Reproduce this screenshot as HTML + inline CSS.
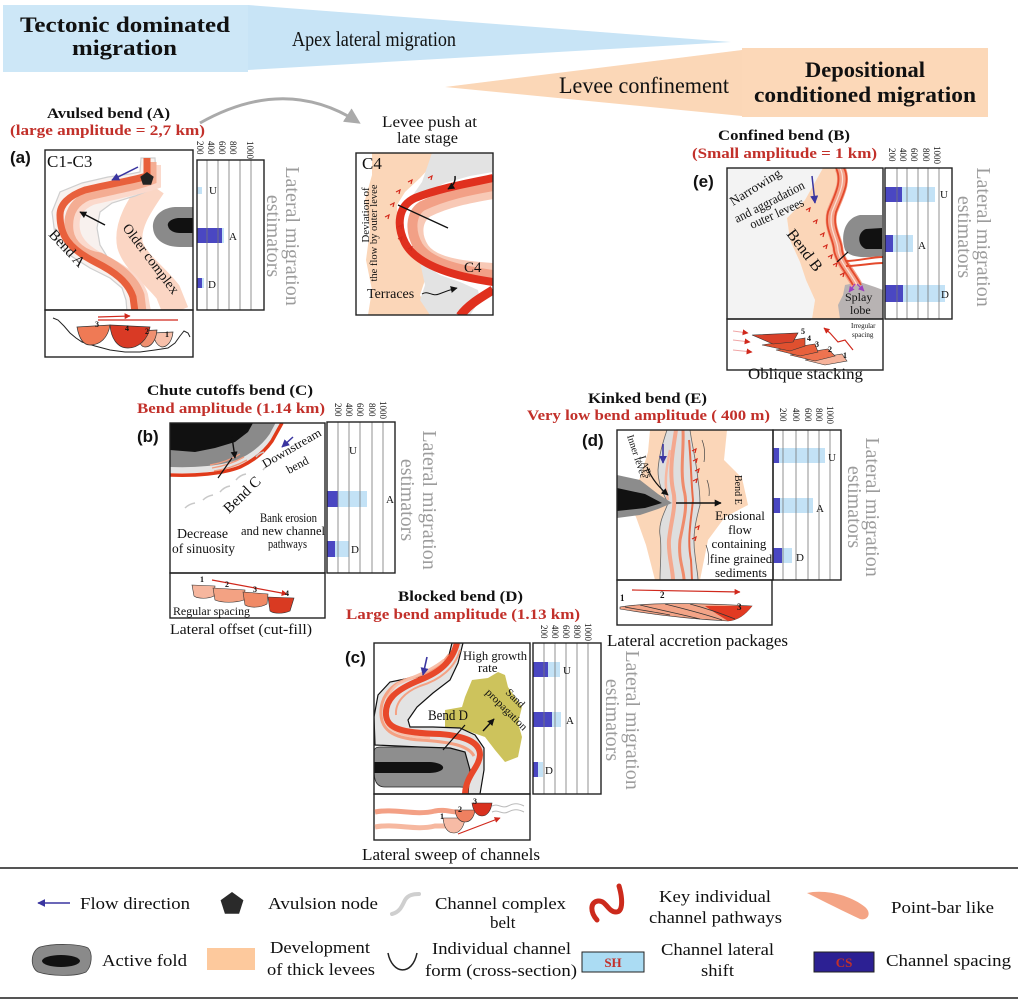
<!DOCTYPE html>
<html><head><meta charset="utf-8">
<style>
html,body{margin:0;padding:0;background:#fff;}
svg{display:block;}
text{font-family:"Liberation Serif","DejaVu Serif",serif;fill:#111;}
.sans{font-family:"Liberation Sans","DejaVu Sans",sans-serif;font-weight:bold;}
.b{font-weight:bold;}
.red{fill:#c2302a;font-weight:bold;}
.gt{fill:#9c9c9c;}
.bx{fill:none;stroke:#222;stroke-width:1.4;}
.gl{stroke:#777;stroke-width:0.8;}
.dk{fill:#4a47c2;}
.lt{fill:#c3e2f6;}
.tk{fill:none;stroke:#d42a1c;stroke-width:1.2;}
</style></head><body>
<svg width="1024" height="1002" viewBox="0 0 1024 1002" xmlns="http://www.w3.org/2000/svg">
<defs>
<marker id="mk" viewBox="0 0 10 10" refX="9" refY="5" markerWidth="7" markerHeight="7" markerUnits="userSpaceOnUse" orient="auto"><path d="M0,0 L10,5 L0,10 Z" fill="#111"/></marker>
<marker id="mb" viewBox="0 0 10 10" refX="9" refY="5" markerWidth="8" markerHeight="8" markerUnits="userSpaceOnUse" orient="auto"><path d="M0,0 L10,5 L0,10 Z" fill="#3a35a0"/></marker>
<marker id="mr" viewBox="0 0 10 10" refX="9" refY="5" markerWidth="6" markerHeight="6" markerUnits="userSpaceOnUse" orient="auto"><path d="M0,0 L10,5 L0,10 Z" fill="#d0281c"/></marker>
<marker id="mg" viewBox="0 0 10 10" refX="8" refY="5" markerWidth="16" markerHeight="16" markerUnits="userSpaceOnUse" orient="auto"><path d="M0,0 L10,5 L0,10 Z" fill="#aaa"/></marker>
<marker id="mp" viewBox="0 0 10 10" refX="9" refY="5" markerWidth="6" markerHeight="6" markerUnits="userSpaceOnUse" orient="auto"><path d="M0,0 L10,5 L0,10 Z" fill="#9b3fc0"/></marker>
<clipPath id="ca"><rect x="45" y="150" width="148" height="160"/></clipPath>
<clipPath id="cm"><rect x="356" y="153" width="137" height="162"/></clipPath>
<clipPath id="ce"><rect x="727" y="168" width="156" height="151"/></clipPath>
<clipPath id="cb"><rect x="170" y="423" width="155" height="150"/></clipPath>
<clipPath id="cd"><rect x="617" y="430" width="156" height="150"/></clipPath>
<clipPath id="cc"><rect x="374" y="643" width="156" height="151"/></clipPath>
</defs>

<!-- ===== Banner ===== -->
<polygon points="3,5 248,5 731,42 248,70 3,72" fill="#c8e4f6"/>
<rect x="3" y="5" width="245" height="67" fill="#cde7f7"/>
<polygon points="445,87 742,50 742,116" fill="#fbd7b7"/>
<rect x="742" y="48" width="246" height="69" fill="#fcd8b8"/>
<text x="20" y="32" font-size="22" class="b" textLength="210" lengthAdjust="spacingAndGlyphs">Tectonic dominated</text>
<text x="72" y="55" font-size="22" class="b" textLength="105" lengthAdjust="spacingAndGlyphs">migration</text>
<text x="292" y="46" font-size="21" textLength="164" lengthAdjust="spacingAndGlyphs">Apex lateral migration</text>
<text x="559" y="93" font-size="23" textLength="170" lengthAdjust="spacingAndGlyphs">Levee confinement</text>
<text x="805" y="77" font-size="22" class="b" textLength="120" lengthAdjust="spacingAndGlyphs">Depositional</text>
<text x="754" y="102" font-size="22" class="b" textLength="222" lengthAdjust="spacingAndGlyphs">conditioned migration</text>

<!-- gray curved arrow -->
<path d="M200,123 Q285,75 358,122" fill="none" stroke="#aaa" stroke-width="3" marker-end="url(#mg)"/>

<!-- ===== Panel a ===== -->
<text x="47" y="118" font-size="15" class="b" textLength="123" lengthAdjust="spacingAndGlyphs">Avulsed bend (A)</text>
<text x="10" y="135" font-size="15" class="red" textLength="195" lengthAdjust="spacingAndGlyphs">(large amplitude = 2,7 km)</text>
<text x="10" y="163" font-size="17" class="sans">(a)</text>
<g clip-path="url(#ca)">
 <path d="M153,186 C140,205 126,225 130,245 C135,262 155,275 168,292 L176,312" fill="none" stroke="#fbd6c4" stroke-width="26"/>
 <polygon points="141,158 140,172 130,174 108,177 82,183 60,192 52,212 55,235 68,254 90,268 110,278 122,288 126,300 127,312 148,312 146,295 140,283 125,270 108,258 100,245 97,228 100,212 112,203 135,196 150,190 156,180 155,158" fill="#f8f1ee" stroke="#cfcfcf" stroke-width="1.2"/>
 <path d="M156,165 L156,184 C140,190 115,194 92,200 C78,206 73,216 75,230 C77,243 88,252 106,261 C124,270 138,280 143,295 L146,312" fill="none" stroke="#fbd9cc" stroke-width="10"/>
 <path d="M152,162 L152,180 C137,186 112,190 88,196 C74,202 67,214 69,231 C71,245 84,255 100,257 C118,266 134,278 140,295 L142,312" fill="none" stroke="#f4ad93" stroke-width="9"/>
 <path d="M147,158 L147,176 C135,180 110,184 85,190 C68,196 60,205 60,215 C60,235 68,248 95,262 C115,272 128,282 133,297 L135,312" fill="none" stroke="#e8603c" stroke-width="7"/>
 <path d="M193,207 L175,207 C160,208 152,218 153,228 C154,240 165,247 180,247 L193,247 Z" fill="#8a8a8a"/>
 <path d="M193,218 L178,218 C170,219 167,223 168,226 C169,231 175,233 180,233 L193,233 Z" fill="#111"/>
 <polygon points="147,172 153.7,176.8 151.1,184.7 142.9,184.7 140.3,176.8" fill="#222"/>
 <line x1="138" y1="167" x2="112" y2="180" stroke="#3a35a0" stroke-width="1.5" marker-end="url(#mb)"/>
 <line x1="105" y1="225" x2="80" y2="212" stroke="#111" stroke-width="1.5" marker-end="url(#mk)"/>
</g>
<text x="47" y="167" font-size="17">C1-C3</text>
<text transform="translate(48,235) rotate(47)" font-size="15">Bend A</text>
<text transform="translate(122,228) rotate(53)" font-size="14" textLength="84" lengthAdjust="spacingAndGlyphs">Older complex</text>
<rect x="45" y="150" width="148" height="160" class="bx"/>
<rect x="45" y="310" width="148" height="47" class="bx"/>
<polyline points="53,318 58,320 64,326 70,333 76,338 82,342 95,346 110,350 125,352 140,352 155,350 168,348 175,343 180,336 184,331 188,333 190,337" fill="none" stroke="#222" stroke-width="1"/>
<path d="M77,327 L110,325 C108,338 100,345 90,345 C83,345 79,338 77,327 Z" fill="#ef7a55" stroke="#333" stroke-width="0.7"/>
<path d="M153,333 L173,332 C172,342 167,347 162,347 C157,346 154,340 153,333 Z" fill="#f8c0aa" stroke="#333" stroke-width="0.7"/>
<path d="M137,331 L157,330 C156,341 151,347 145,347 C140,347 138,340 137,331 Z" fill="#f09070" stroke="#333" stroke-width="0.7"/>
<path d="M110,325 L150,327 C148,340 138,348 128,348 C117,348 111,338 110,325 Z" fill="#d93a25" stroke="#333" stroke-width="0.7"/>
<line x1="98" y1="320" x2="178" y2="320" stroke="#d0281c" stroke-width="1.2"/>
<line x1="98" y1="317" x2="130" y2="316" stroke="#d0281c" stroke-width="1.2" marker-end="url(#mr)"/>
<g font-size="8" class="b"><text x="95" y="327">3</text><text x="125" y="331">4</text><text x="145" y="334">2</text><text x="165" y="337">1</text></g>
<!-- chart a -->
<rect x="197" y="187" width="5" height="7" class="lt"/>
<rect x="197" y="228" width="25" height="15" class="dk"/><rect x="222" y="228" width="2" height="15" class="lt"/>
<rect x="197" y="278" width="5" height="10" class="dk"/><rect x="202" y="278" width="2" height="10" class="lt"/>
<g class="gl"><line x1="207" y1="160" x2="207" y2="310"/><line x1="218" y1="160" x2="218" y2="310"/><line x1="229" y1="160" x2="229" y2="310"/><line x1="240" y1="160" x2="240" y2="310"/><line x1="251" y1="160" x2="251" y2="310"/></g>
<rect x="197" y="160" width="67" height="150" class="bx"/>
<g font-size="9"><text transform="translate(197,141) rotate(90)">200</text><text transform="translate(208,141) rotate(90)">400</text><text transform="translate(219,141) rotate(90)">600</text><text transform="translate(230,141) rotate(90)">800</text><text transform="translate(247,141) rotate(90)">1000</text></g>
<g font-size="11"><text x="209" y="194">U</text><text x="229" y="240">A</text><text x="208" y="288">D</text></g>
<text transform="translate(286,236) rotate(90)" font-size="20" class="gt" text-anchor="middle">Lateral migration</text>
<text transform="translate(267,236) rotate(90)" font-size="20" class="gt" text-anchor="middle">estimators</text>

<!-- ===== Middle C4 ===== -->
<text x="382" y="127" font-size="16" textLength="95" lengthAdjust="spacingAndGlyphs">Levee push at</text>
<text x="397" y="143" font-size="16" textLength="61" lengthAdjust="spacingAndGlyphs">late stage</text>
<g clip-path="url(#cm)">
 <polygon points="372,153 440,153 432,165 420,178 405,192 397,205 398,225 405,245 420,262 435,272 425,280 420,295 430,315 368,315 372,290 366,260 370,230 365,200 372,175" fill="#fbd6b8"/>
 <polygon points="432,153 493,153 493,172 470,176 445,183 420,195 408,202 422,182" fill="#e3e3e3"/>
 <polygon points="420,262 440,275 460,282 478,290 480,300 470,315 430,315 420,300 425,285" fill="#e3e3e3"/>
 <path d="M493,194 C470,198 448,202 428,212 C416,220 416,236 424,248 C434,262 460,266 493,268" fill="none" stroke="#f8c9b6" stroke-width="10"/>
 <path d="M493,186 C470,190 445,195 422,206 C410,214 410,232 418,246 C428,262 455,270 493,275" fill="none" stroke="#f2a086" stroke-width="10"/>
 <path d="M493,178 C470,183 440,188 415,198 C398,206 396,225 405,243 C415,262 445,275 493,282" fill="none" stroke="#e0301e" stroke-width="8"/>
 <path d="M493,290 C480,298 468,305 460,316" fill="none" stroke="#e0301e" stroke-width="9"/>
 <path d="M455,176 Q456,184 448,189" fill="none" stroke="#111" stroke-width="1.5" marker-end="url(#mk)"/>
 <line x1="398" y1="205" x2="448" y2="228" stroke="#111" stroke-width="1.3"/>
 <g class="tk"><path d="M408,182 l4,-2 l-1,4"/><path d="M428,178 l4,-2 l-1,4"/><path d="M396,192 l4,-2 l-1,4"/><path d="M390,205 l4,-2 l-1,4"/><path d="M385,217 l4,-2 l-1,4"/><path d="M398,227 l4,-2 l-1,4"/><path d="M398,239 l4,-2 l-1,4"/><path d="M408,249 l4,-2 l-1,4"/></g>
 <path d="M422,294 c6,-4 10,3 17,0 s10,-4 18,-6" fill="none" stroke="#111" stroke-width="1" marker-end="url(#mk)"/>
</g>
<text x="362" y="169" font-size="17">C4</text>
<text x="464" y="272" font-size="15">C4</text>
<text transform="translate(369,215) rotate(-90)" font-size="11" text-anchor="middle">Deviation of</text>
<text transform="translate(377,233) rotate(-90)" font-size="10.5" text-anchor="middle" textLength="97" lengthAdjust="spacingAndGlyphs">the flow by outer levee</text>
<text x="367" y="298" font-size="14">Terraces</text>
<rect x="356" y="153" width="137" height="162" class="bx"/>

<!-- ===== Panel e ===== -->
<text x="718" y="140" font-size="15" class="b" textLength="132" lengthAdjust="spacingAndGlyphs">Confined bend (B)</text>
<text x="692" y="158" font-size="15" class="red" textLength="185" lengthAdjust="spacingAndGlyphs">(Small amplitude = 1 km)</text>
<text x="693" y="187" font-size="17" class="sans">(e)</text>
<g clip-path="url(#ce)">
 <polygon points="727,168 823,168 805,200 787,218 790,240 800,262 806,280 815,300 812,319 727,319" fill="#f3f3f3"/>
 <polygon points="823,168 842,168 835,190 830,215 833,240 838,258 848,272 858,285 845,290 842,305 843,319 812,319 815,300 806,280 800,262 790,240 787,218 805,200" fill="#fbd6b8"/>
 <path d="M882,215 L860,215 C845,218 840,235 845,250 C850,258 865,258 882,256 Z" fill="#8c8c8c"/>
 <path d="M882,228 L866,229 C857,232 857,246 866,249 L882,249 Z" fill="#111"/>
 <polygon points="845,285 860,282 875,287 883,290 883,319 840,319 838,305 843,295" fill="#b8b3b3"/>
 <path d="M840,168 C847,182 838,196 832,212 C828,228 838,240 838,250 C840,262 850,272 857,285" fill="none" stroke="#f4a28a" stroke-width="11"/>
 <path d="M836,168 C843,182 834,196 828,212 C824,228 834,240 834,250 C836,262 846,272 853,285" fill="none" stroke="#e44a2c" stroke-width="1.8"/>
 <path d="M844,168 C851,182 842,196 836,212 C832,228 842,240 842,250 C844,262 854,272 861,285" fill="none" stroke="#e44a2c" stroke-width="1.8"/>
 <path d="M840,168 C847,182 838,196 832,212 C828,228 838,240 838,250 C840,262 850,272 857,285" fill="none" stroke="#fbe0d5" stroke-width="1.2"/>
 <path d="M846,261 C860,261 870,257 883,257" fill="none" stroke="#e44a2c" stroke-width="2"/>
 <path d="M846,266 C860,266 870,263 883,263" fill="none" stroke="#e44a2c" stroke-width="2"/>
 <line x1="812" y1="176" x2="815" y2="203" stroke="#3a35a0" stroke-width="1.5" marker-end="url(#mb)"/>
 <line x1="837" y1="262" x2="848" y2="252" stroke="#111" stroke-width="1.2"/>
 <line x1="855" y1="284" x2="849" y2="292" stroke="#9b3fc0" stroke-width="1.2" marker-end="url(#mp)"/>
 <line x1="857" y1="284" x2="864" y2="291" stroke="#9b3fc0" stroke-width="1.2" marker-end="url(#mp)"/>
 <g class="tk"><path d="M806,210 l4,-2 l-1,4"/><path d="M813,222 l4,-2 l-1,4"/><path d="M820,235 l4,-2 l-1,4"/><path d="M823,247 l4,-2 l-1,4"/><path d="M828,257 l4,-2 l-1,4"/><path d="M833,265 l4,-2 l-1,4"/><path d="M840,275 l4,-2 l-1,4"/></g>
</g>
<text transform="translate(733,206) rotate(-32)" font-size="13" textLength="58" lengthAdjust="spacingAndGlyphs">Narrowing</text>
<text transform="translate(737,223) rotate(-27)" font-size="13" textLength="77" lengthAdjust="spacingAndGlyphs">and aggradation</text>
<text transform="translate(752,229) rotate(-24)" font-size="13" textLength="58" lengthAdjust="spacingAndGlyphs">outer levees</text>
<text transform="translate(786,234) rotate(53)" font-size="16">Bend B</text>
<text x="845" y="301" font-size="12">Splay</text>
<text x="850" y="314" font-size="12">lobe</text>
<rect x="727" y="168" width="156" height="151" class="bx"/>
<rect x="727" y="319" width="156" height="51" class="bx"/>
<g stroke="#f0a6a6" stroke-width="1"><line x1="733" y1="331" x2="748" y2="333" marker-end="url(#mr)"/><line x1="733" y1="340" x2="750" y2="342" marker-end="url(#mr)"/><line x1="733" y1="350" x2="752" y2="352" marker-end="url(#mr)"/></g>
<g stroke="#333" stroke-width="0.6">
<polygon points="805,360 842,354 847,361 825,365" fill="#f6b39b"/>
<polygon points="790,355 828,349 835,356 815,361" fill="#ee7350"/>
<polygon points="776,350 815,344 818,352 800,356" fill="#e8603c"/>
<polygon points="762,345 805,338 805,346 790,351" fill="#e0502f"/>
<polygon points="752,335 798,333 793,342 773,344" fill="#d9412a"/>
</g>
<g font-size="8" class="b"><text x="801" y="334">5</text><text x="807" y="341">4</text><text x="815" y="347">3</text><text x="828" y="352">2</text><text x="843" y="358">1</text></g>
<polyline points="853,350 845,340 838,342 830,333 824,328" fill="none" stroke="#d0281c" stroke-width="1.2" marker-end="url(#mr)"/>
<text x="851" y="328" font-size="7">Irregular</text>
<text x="852" y="337" font-size="7">spacing</text>
<text x="748" y="379" font-size="16" textLength="115" lengthAdjust="spacingAndGlyphs">Oblique stacking</text>
<!-- chart e -->
<rect x="885" y="187" width="17" height="15" class="dk"/><rect x="902" y="187" width="33" height="15" class="lt"/>
<rect x="885" y="235" width="8" height="17" class="dk"/><rect x="893" y="235" width="20" height="17" class="lt"/>
<rect x="885" y="285" width="18" height="17" class="dk"/><rect x="903" y="285" width="42" height="17" class="lt"/>
<g class="gl"><line x1="897" y1="168" x2="897" y2="319"/><line x1="907" y1="168" x2="907" y2="319"/><line x1="918" y1="168" x2="918" y2="319"/><line x1="928" y1="168" x2="928" y2="319"/><line x1="939" y1="168" x2="939" y2="319"/></g>
<rect x="885" y="168" width="67" height="151" class="bx"/>
<g font-size="9"><text transform="translate(889,148) rotate(90)">200</text><text transform="translate(900,148) rotate(90)">400</text><text transform="translate(911,148) rotate(90)">600</text><text transform="translate(923,148) rotate(90)">800</text><text transform="translate(934,146) rotate(90)">1000</text></g>
<g font-size="11"><text x="940" y="198">U</text><text x="918" y="249">A</text><text x="941" y="298">D</text></g>
<text transform="translate(977,237) rotate(90)" font-size="20" class="gt" text-anchor="middle">Lateral migration</text>
<text transform="translate(958,237) rotate(90)" font-size="20" class="gt" text-anchor="middle">estimators</text>

<!-- ===== Panel b ===== -->
<text x="147" y="395" font-size="15" class="b" textLength="166" lengthAdjust="spacingAndGlyphs">Chute cutoffs bend (C)</text>
<text x="137" y="413" font-size="15" class="red" textLength="188" lengthAdjust="spacingAndGlyphs">Bend amplitude (1.14 km)</text>
<text x="137" y="442" font-size="17" class="sans">(b)</text>
<g clip-path="url(#cb)">
 <polygon points="170,423 282,423 278,432 270,442 260,452 247,460 230,466 207,470 187,472 170,472" fill="#8a8a8a"/>
 <polygon points="170,423 253,423 248,432 235,442 215,448 195,452 170,450" fill="#111"/>
 <path d="M170,470 C195,471 222,469 240,462 C255,455 265,446 272,436 L279,423" fill="none" stroke="#e4e4e4" stroke-width="6"/>
 <path d="M212,468 C225,466 235,462 244,457 M214,471 C228,469 238,465 247,460 M210,465 C222,463 232,459 240,454" fill="none" stroke="#f29a7c" stroke-width="1.3"/>
 <path d="M170,475 C195,476 222,474 240,467 C255,460 265,451 272,441 L282,423" fill="none" stroke="#e03a1a" stroke-width="3.5"/>
 <path d="M256,457 q3,-4 8,-5 M236,480 q4,-5 10,-6 M220,492 q4,-5 10,-6 M203,500 q4,-4 10,-5 M185,508 q4,-4 10,-5 M263,470 q3,-4 7,-5" fill="none" stroke="#c8c8c8" stroke-width="1.5"/>
 <line x1="232" y1="437" x2="235" y2="458" stroke="#111" stroke-width="1.4" marker-end="url(#mk)"/>
 <line x1="218" y1="478" x2="232" y2="458" stroke="#111" stroke-width="1.2"/>
 <line x1="293" y1="437" x2="282" y2="447" stroke="#3a35a0" stroke-width="1.5" marker-end="url(#mb)"/>
</g>
<text transform="translate(265,468) rotate(-30)" font-size="12" textLength="66" lengthAdjust="spacingAndGlyphs">Downstream</text>
<text transform="translate(289,474) rotate(-28)" font-size="12">bend</text>
<text transform="translate(229,514) rotate(-44)" font-size="15">Bend C</text>
<text x="260" y="522" font-size="13" textLength="57" lengthAdjust="spacingAndGlyphs">Bank erosion</text>
<text x="241" y="535" font-size="13" textLength="84" lengthAdjust="spacingAndGlyphs">and new channel</text>
<text x="268" y="548" font-size="13" textLength="39" lengthAdjust="spacingAndGlyphs">pathways</text>
<text x="177" y="538" font-size="14" textLength="51" lengthAdjust="spacingAndGlyphs">Decrease</text>
<text x="172" y="553" font-size="14" textLength="63" lengthAdjust="spacingAndGlyphs">of sinuosity</text>
<rect x="170" y="423" width="155" height="150" class="bx"/>
<rect x="170" y="573" width="155" height="45" class="bx"/>
<g stroke="#333" stroke-width="0.6">
<path d="M192,585 L215,586 L214,596 C208,599 198,599 194,596 Z" fill="#f6b69e"/>
<path d="M213,588 L245,590 L244,600 C235,603 222,603 215,600 Z" fill="#f3a283"/>
<path d="M243,592 L268,594 L267,604 C260,608 250,608 245,605 Z" fill="#f08a66"/>
<path d="M268,597 L294,598 L290,611 C283,614 274,614 270,611 Z" fill="#d93a22"/>
</g>
<line x1="212" y1="580" x2="287" y2="594" stroke="#d0281c" stroke-width="1.2" marker-end="url(#mr)"/>
<g font-size="8" class="b"><text x="200" y="582">1</text><text x="225" y="587">2</text><text x="253" y="592">3</text><text x="285" y="596">4</text></g>
<text x="173" y="615" font-size="12" textLength="77" lengthAdjust="spacingAndGlyphs">Regular spacing</text>
<text x="170" y="634" font-size="15" textLength="142" lengthAdjust="spacingAndGlyphs">Lateral offset (cut-fill)</text>
<!-- chart b -->
<rect x="327" y="491" width="11" height="16" class="dk"/><rect x="338" y="491" width="29" height="16" class="lt"/>
<rect x="327" y="541" width="8" height="16" class="dk"/><rect x="335" y="541" width="14" height="16" class="lt"/>
<g class="gl"><line x1="338" y1="422" x2="338" y2="573"/><line x1="349" y1="422" x2="349" y2="573"/><line x1="360" y1="422" x2="360" y2="573"/><line x1="372" y1="422" x2="372" y2="573"/><line x1="383" y1="422" x2="383" y2="573"/></g>
<rect x="327" y="422" width="68" height="151" class="bx"/>
<g font-size="9"><text transform="translate(335,403) rotate(90)">200</text><text transform="translate(346,403) rotate(90)">400</text><text transform="translate(357,403) rotate(90)">600</text><text transform="translate(369,403) rotate(90)">800</text><text transform="translate(380,401) rotate(90)">1000</text></g>
<g font-size="11"><text x="349" y="454">U</text><text x="386" y="503">A</text><text x="351" y="553">D</text></g>
<text transform="translate(423,500) rotate(90)" font-size="20" class="gt" text-anchor="middle">Lateral migration</text>
<text transform="translate(401,500) rotate(90)" font-size="20" class="gt" text-anchor="middle">estimators</text>

<!-- ===== Panel d ===== -->
<text x="588" y="403" font-size="15" class="b" textLength="119" lengthAdjust="spacingAndGlyphs">Kinked bend (E)</text>
<text x="527" y="420" font-size="15" class="red" textLength="243" lengthAdjust="spacingAndGlyphs">Very low bend amplitude ( 400 m)</text>
<text x="582" y="446" font-size="17" class="sans">(d)</text>
<g clip-path="url(#cd)">
 <polygon points="650,430 727,430 724,460 742,478 748,505 725,517 708,540 700,580 655,580 646,545 636,517 626,498 640,478 648,452" fill="#fbd6b8"/>
 <path d="M667,430 L690,430 C692,445 696,460 698,480 C700,492 700,500 700,505 C696,520 692,535 695,555 C696,565 698,575 698,580 L660,580 C660,565 662,548 660,535 C658,522 666,510 668,503 C664,495 658,485 658,470 C659,455 663,442 667,430 Z" fill="#dedede" stroke="#666" stroke-width="0.8"/>
 <path d="M676,430 C673,450 669,470 673,490 C677,505 671,520 669,540 C668,555 673,570 673,580" fill="none" stroke="#f4a88e" stroke-width="4"/>
 <path d="M683,430 C684,450 680,470 684,490 C688,505 684,520 680,540 C678,560 684,570 684,580" fill="none" stroke="#ef8b6b" stroke-width="3"/>
 <path d="M689,440 C691,460 691,480 693,500 C691,520 687,540 691,560 L692,580" fill="none" stroke="#e86a48" stroke-width="2"/>
 <path d="M670,450 C666,470 664,485 668,500" fill="none" stroke="#f7b7a0" stroke-width="2.5"/>
 <polygon points="617,475 640,480 658,494 672,503 658,509 640,515 617,518" fill="#8c8c8c"/>
 <polygon points="617,488 645,494 662,503 645,508 617,511" fill="#111"/>
 <line x1="676" y1="503" x2="721" y2="503" stroke="#111" stroke-width="1.4" marker-end="url(#mk)"/>
 <line x1="663" y1="444" x2="663" y2="463" stroke="#3a35a0" stroke-width="1.6" marker-end="url(#mb)"/>
 <path d="M647,467 C652,480 660,488 668,495" fill="none" stroke="#111" stroke-width="1.2" marker-end="url(#mk)"/>
 <g class="tk"><path d="M692,451 l4,-2 l-1,4"/><path d="M693,461 l4,-2 l-1,4"/><path d="M695,471 l4,-2 l-1,4"/><path d="M693,481 l4,-2 l-1,4"/><path d="M695,528 l4,-2 l-1,4"/><path d="M692,539 l4,-2 l-1,4"/></g>
 <path d="M702,440 q4,10 2,22 M707,480 q3,8 2,16 M706,545 q4,10 2,20" fill="none" stroke="#444" stroke-width="0.7"/>
</g>
<text transform="translate(627,436) rotate(72)" font-size="10">Inner levee</text>
<text transform="translate(639,457) rotate(72)" font-size="10">LAPs</text>
<text transform="translate(735,475) rotate(90)" font-size="10">Bend E</text>
<g font-size="13" text-anchor="middle"><text x="740" y="520">Erosional</text><text x="740" y="534">flow</text><text x="739" y="548">containing</text><text x="741" y="563">fine grained</text><text x="741" y="577">sediments</text></g>
<rect x="617" y="430" width="156" height="150" class="bx"/>
<rect x="617" y="580" width="155" height="45" class="bx"/>
<path d="M620,607 C650,602 700,603 752,606 C745,615 738,620 728,621 C690,619 650,614 620,609 Z" fill="#f3a487" stroke="#333" stroke-width="0.6"/>
<path d="M705,606 L752,606 C745,615 738,620 728,621 C720,616 712,611 705,606 Z" fill="#e23a22"/>
<path d="M640,605 C660,610 680,614 700,619 M665,604 C685,609 705,614 722,620 M690,604 C705,608 720,613 735,619 M625,607 C640,610 655,612 670,615" fill="none" stroke="#333" stroke-width="0.8"/>
<line x1="632" y1="590" x2="740" y2="592" stroke="#d0281c" stroke-width="1.2" marker-end="url(#mr)"/>
<g font-size="9" class="b"><text x="620" y="601">1</text><text x="660" y="598">2</text><text x="737" y="610">3</text></g>
<text x="607" y="646" font-size="17" textLength="181" lengthAdjust="spacingAndGlyphs">Lateral accretion packages</text>
<!-- chart d -->
<rect x="773" y="448" width="6" height="15" class="dk"/><rect x="779" y="448" width="46" height="15" class="lt"/>
<rect x="773" y="498" width="7" height="15" class="dk"/><rect x="780" y="498" width="33" height="15" class="lt"/>
<rect x="773" y="548" width="9" height="15" class="dk"/><rect x="782" y="548" width="10" height="15" class="lt"/>
<g class="gl"><line x1="783" y1="430" x2="783" y2="580"/><line x1="796" y1="430" x2="796" y2="580"/><line x1="808" y1="430" x2="808" y2="580"/><line x1="819" y1="430" x2="819" y2="580"/><line x1="830" y1="430" x2="830" y2="580"/></g>
<rect x="773" y="430" width="68" height="150" class="bx"/>
<g font-size="9"><text transform="translate(780,408) rotate(90)">200</text><text transform="translate(793,408) rotate(90)">400</text><text transform="translate(805,408) rotate(90)">600</text><text transform="translate(816,408) rotate(90)">800</text><text transform="translate(827,406) rotate(90)">1000</text></g>
<g font-size="11"><text x="828" y="461">U</text><text x="816" y="512">A</text><text x="796" y="561">D</text></g>
<text transform="translate(866,507) rotate(90)" font-size="20" class="gt" text-anchor="middle">Lateral migration</text>
<text transform="translate(848,507) rotate(90)" font-size="20" class="gt" text-anchor="middle">estimators</text>

<!-- ===== Panel c ===== -->
<text x="398" y="601" font-size="15" class="b" textLength="125" lengthAdjust="spacingAndGlyphs">Blocked bend (D)</text>
<text x="346" y="619" font-size="15" class="red" textLength="234" lengthAdjust="spacingAndGlyphs">Large bend amplitude (1.13 km)</text>
<text x="345" y="663" font-size="17" class="sans">(c)</text>
<g clip-path="url(#cc)">
 <path d="M380,747 L470,747 C478,750 478,760 477,775 C476,785 470,788 460,787 L385,787 C376,787 374,780 374,770 L374,752 C374,749 376,747 380,747 Z" fill="#8e8e8e" stroke="#222" stroke-width="0.8"/>
 <path d="M374,762 L430,762 C447,763 448,772 430,773 L374,773 Z" fill="#111"/>
 <polygon points="465,697 472,680 488,678 498,672 505,675 508,687 515,697 522,707 518,723 522,737 518,757 505,762 495,750 485,737 465,730 445,727 445,710 462,707" fill="#cdc35c"/>
 <polygon points="452,643 447,663 432,675 410,678 390,682 378,695 374,717 375,745 420,747 450,748 465,752 470,770 468,794 480,794 484,770 484,748 475,735 460,728 433,727 410,727 408,720 417,707 433,693 450,680 458,663 463,643" fill="#e3e3e3" stroke="#111" stroke-width="1.2"/>
 <path d="M449,655 C440,668 425,674 405,680 C388,686 380,700 381,715 C382,728 390,738 420,740 C450,742 468,745 474,756" fill="none" stroke="#f4a183" stroke-width="3"/>
 <path d="M444,660 C432,670 415,676 398,684 C387,692 384,705 386,722 C390,732 405,737 430,738" fill="none" stroke="#f7c0aa" stroke-width="2.5"/>
 <path d="M460,650 C455,668 440,680 420,686 C405,692 395,702 396,715" fill="none" stroke="#f4a183" stroke-width="2"/>
 <path d="M457,643 C452,662 440,672 420,680 C395,690 385,700 386,715 C387,728 400,733 440,734 C465,736 480,742 480,755 C479,768 466,775 465,794" fill="none" stroke="#e8482a" stroke-width="6"/>
 <line x1="483" y1="731" x2="494" y2="719" stroke="#111" stroke-width="1.5" marker-end="url(#mk)"/>
 <line x1="465" y1="725" x2="443" y2="750" stroke="#111" stroke-width="1.2"/>
 <line x1="427" y1="657" x2="423" y2="675" stroke="#3a35a0" stroke-width="1.6" marker-end="url(#mb)"/>
</g>
<text x="463" y="660" font-size="13" textLength="64" lengthAdjust="spacingAndGlyphs">High growth</text>
<text x="478" y="672" font-size="13">rate</text>
<text transform="translate(505,693) rotate(45)" font-size="11">Sand</text>
<text transform="translate(485,693) rotate(45)" font-size="11" textLength="54" lengthAdjust="spacingAndGlyphs">propagation</text>
<text x="428" y="720" font-size="15" textLength="40" lengthAdjust="spacingAndGlyphs">Bend D</text>
<rect x="374" y="643" width="156" height="151" class="bx"/>
<rect x="374" y="794" width="156" height="46" class="bx"/>
<path d="M375,812 C395,808 415,816 435,811 C445,809 450,812 458,812" fill="none" stroke="#f3a085" stroke-width="5"/>
<path d="M375,827 C395,823 415,831 435,826 L447,826" fill="none" stroke="#f6b8a0" stroke-width="5"/>
<path d="M492,806 c6,-3 10,3 16,0 s10,-3 16,0 M492,812 c6,-3 10,3 16,0 s10,-3 16,0" fill="none" stroke="#bbb" stroke-width="1"/>
<g stroke="#333" stroke-width="0.6">
<path d="M443,818 L465,818 C464,828 459,833 454,833 C448,833 444,828 443,818 Z" fill="#f7bba5"/>
<path d="M455,810 L475,810 C474,818 470,822 465,822 C460,822 456,818 455,810 Z" fill="#ef8060"/>
<path d="M472,803 L492,803 C491,811 487,816 482,816 C477,816 473,811 472,803 Z" fill="#d9311f"/>
</g>
<line x1="458" y1="834" x2="500" y2="818" stroke="#d0281c" stroke-width="1.2" marker-end="url(#mr)"/>
<g font-size="8" class="b"><text x="440" y="819">1</text><text x="458" y="812">2</text><text x="473" y="804">3</text></g>
<text x="362" y="860" font-size="17" textLength="178" lengthAdjust="spacingAndGlyphs">Lateral sweep of channels</text>
<!-- chart c -->
<rect x="533" y="662" width="15" height="15" class="dk"/><rect x="548" y="662" width="12" height="15" class="lt"/>
<rect x="533" y="712" width="19" height="15" class="dk"/><rect x="552" y="712" width="9" height="15" class="lt"/>
<rect x="533" y="762" width="5" height="15" class="dk"/><rect x="538" y="762" width="5" height="15" class="lt"/>
<g class="gl"><line x1="544" y1="643" x2="544" y2="794"/><line x1="555" y1="643" x2="555" y2="794"/><line x1="566" y1="643" x2="566" y2="794"/><line x1="577" y1="643" x2="577" y2="794"/><line x1="588" y1="643" x2="588" y2="794"/></g>
<rect x="533" y="643" width="68" height="151" class="bx"/>
<g font-size="9"><text transform="translate(541,625) rotate(90)">200</text><text transform="translate(552,625) rotate(90)">400</text><text transform="translate(563,625) rotate(90)">600</text><text transform="translate(574,625) rotate(90)">800</text><text transform="translate(585,623) rotate(90)">1000</text></g>
<g font-size="11"><text x="563" y="674">U</text><text x="566" y="724">A</text><text x="545" y="774">D</text></g>
<text transform="translate(626,720) rotate(90)" font-size="20" class="gt" text-anchor="middle">Lateral migration</text>
<text transform="translate(606,720) rotate(90)" font-size="20" class="gt" text-anchor="middle">estimators</text>

<!-- ===== Legend ===== -->
<line x1="0" y1="868" x2="1018" y2="868" stroke="#555" stroke-width="2"/>
<line x1="0" y1="998" x2="1018" y2="998" stroke="#555" stroke-width="2"/>
<line x1="70" y1="903" x2="38" y2="903" stroke="#3a35a0" stroke-width="1.5" marker-end="url(#mb)"/>
<text x="80" y="909" font-size="17" textLength="110" lengthAdjust="spacingAndGlyphs">Flow direction</text>
<polygon points="232,892 243.4,900.3 239.1,913.7 224.9,913.7 220.6,900.3" fill="#2a2a2a"/>
<text x="268" y="909" font-size="17" textLength="110" lengthAdjust="spacingAndGlyphs">Avulsion node</text>
<path d="M392,914 C400,912 402,906 405,900 C408,895 413,894 419,894" fill="none" stroke="#cfcfcf" stroke-width="4" stroke-linecap="round"/>
<text x="435" y="909" font-size="17" textLength="131" lengthAdjust="spacingAndGlyphs">Channel complex</text>
<text x="490" y="928" font-size="17">belt</text>
<path d="M597,920 C590,912 590,902 598,901 C606,900 608,912 616,912 C624,912 622,896 619,886" fill="none" stroke="#cc2a1c" stroke-width="5" stroke-linecap="round"/>
<text x="659" y="902" font-size="17" textLength="112" lengthAdjust="spacingAndGlyphs">Key individual</text>
<text x="649" y="923" font-size="17" textLength="133" lengthAdjust="spacingAndGlyphs">channel pathways</text>
<path d="M807,893 C825,889 850,895 865,907 C872,913 868,921 860,919 C845,912 825,902 807,893 Z" fill="#f4a485"/>
<text x="891" y="913" font-size="17" textLength="103" lengthAdjust="spacingAndGlyphs">Point-bar like</text>
<path d="M40,947 C55,943 80,944 88,948 C93,953 92,966 86,972 C75,977 50,976 38,972 C30,968 30,951 40,947 Z" fill="#8a8a8a" stroke="#444" stroke-width="0.8"/>
<ellipse cx="61" cy="961" rx="19" ry="6" fill="#111"/>
<text x="102" y="966" font-size="17" textLength="85" lengthAdjust="spacingAndGlyphs">Active fold</text>
<rect x="207" y="948" width="48" height="22" fill="#fdc99d"/>
<text x="270" y="953" font-size="17" textLength="100" lengthAdjust="spacingAndGlyphs">Development</text>
<text x="267" y="975" font-size="17" textLength="108" lengthAdjust="spacingAndGlyphs">of thick levees</text>
<path d="M388,953 C392,974 412,977 417,953" fill="none" stroke="#222" stroke-width="1.5"/>
<text x="432" y="954" font-size="17" textLength="139" lengthAdjust="spacingAndGlyphs">Individual channel</text>
<text x="425" y="976" font-size="17" textLength="152" lengthAdjust="spacingAndGlyphs">form (cross-section)</text>
<rect x="582" y="952" width="62" height="20" fill="#abdcf3" stroke="#222" stroke-width="1"/>
<text x="613" y="967" font-size="13" class="red" text-anchor="middle">SH</text>
<text x="661" y="955" font-size="17" textLength="113" lengthAdjust="spacingAndGlyphs">Channel lateral</text>
<text x="701" y="976" font-size="17" textLength="33" lengthAdjust="spacingAndGlyphs">shift</text>
<rect x="814" y="952" width="60" height="20" fill="#2c2093" stroke="#222" stroke-width="1"/>
<text x="844" y="967" font-size="13" class="red" text-anchor="middle">CS</text>
<text x="886" y="966" font-size="17" textLength="125" lengthAdjust="spacingAndGlyphs">Channel spacing</text>
</svg>
</body></html>
